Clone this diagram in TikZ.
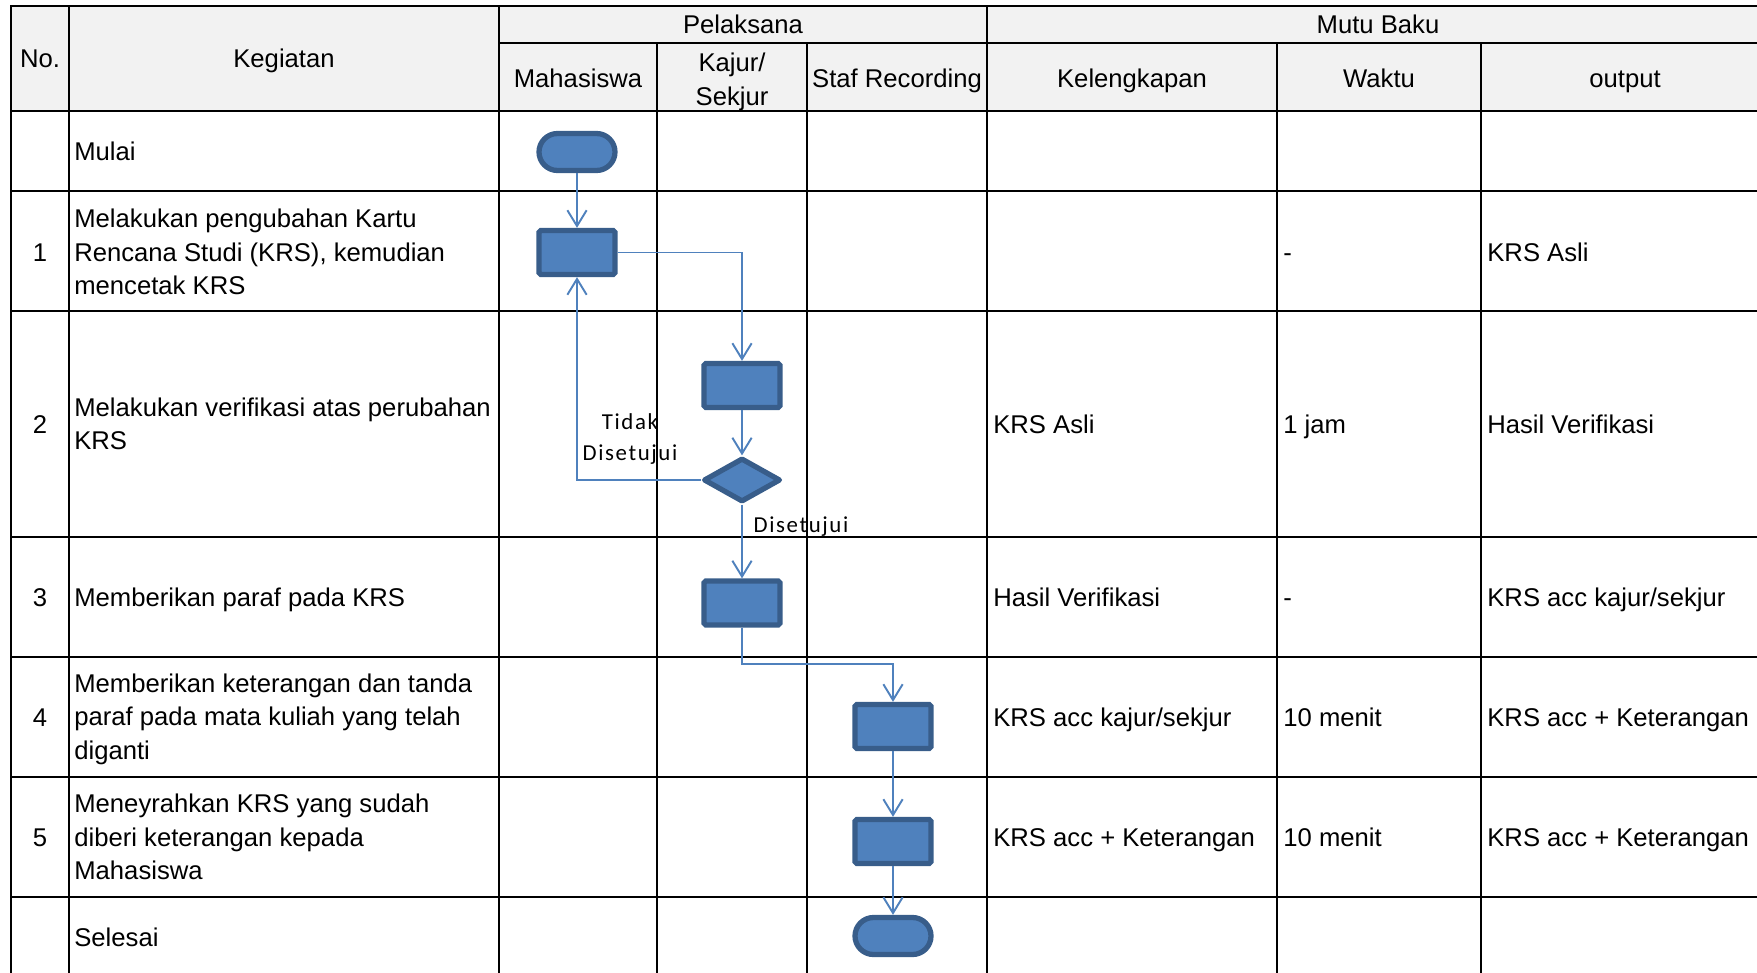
\documentclass[tikz,border=0pt]{standalone}
\usepackage{fontspec}
\setmainfont{Liberation Sans}
\newfontfamily\calibri{Carlito}[LetterSpace=7]
\usetikzlibrary{shapes.geometric,arrows.meta}

\definecolor{flowfill}{HTML}{4F81BD}
\definecolor{flowedge}{HTML}{385D8A}
\definecolor{headgrey}{HTML}{F2F2F2}

\begin{document}
\begin{tikzpicture}[
    x=0.02cm, y=-0.02cm,
    font=\fontsize{14.6}{19}\selectfont,
    grid/.style={line width=1.4pt, line cap=rect},
    head/.style={align=center, inner sep=0pt, text height=10.45pt, text depth=0pt},
    cell/.style={anchor=west, inner sep=0pt, text height=10.45pt, text depth=0pt},
    mcell/.style={anchor=west, align=left, inner sep=0pt},
    box/.style={
        rectangle, draw=flowedge, fill=flowfill, line width=3pt,
        minimum width=1.52cm, minimum height=0.88cm,
        rounded corners=1pt, inner sep=0pt
    },
    term/.style={box, rounded corners=0.37cm, minimum height=0.74cm},
    dec/.style={
        diamond, draw=flowedge, fill=flowfill, line width=3pt, line join=round,
        minimum width=1.54cm, minimum height=0.88cm, inner sep=0pt
    },
    arrow/.style={-{Straight Barb[length=9pt,width=11pt]}, draw=flowfill, line width=1.1pt},
    lbl/.style={font=\calibri\fontsize{13}{18}\selectfont, align=center, inner sep=0pt}
]
\useasboundingbox (0,0) rectangle (1757,973);

% Table grid
\fill[headgrey] (11,6) rectangle (1770,111);
\draw[grid] (11,6) -- (1770,6);
\draw[grid] (499,43) -- (1770,43);
\foreach \y in {111,191,311,537,657,777,897} \draw[grid] (11,\y) -- (1770,\y);
\foreach \x in {11,69,499,987} \draw[grid] (\x,6) -- (\x,990);
\foreach \x in {657,807,1277,1481} \draw[grid] (\x,43) -- (\x,990);

% Header
\node[head] (hno)   at (40,58)     {No.};
\node[head] (hkeg)  at (284,58)    {Kegiatan};
\node[head] (hpel)  at (743,24.5)  {Pelaksana};
\node[head] (hmutu) at (1378,24.5) {Mutu Baku};
\node[head] (hmhs)  at (578,78)    {Mahasiswa};
\node[align=center, inner sep=0pt] (hkaj) at (732,82) {Kajur/\\Sekjur};
\node[head] (hstaf) at (897,78)    {Staf Recording};
\node[head] (hkel)  at (1132,78)   {Kelengkapan};
\node[head] (hwkt)  at (1379,78)   {Waktu};
\node[head] (hout)  at (1625,78)   {output};

% Numbers
\node[head] (n1) at (40,252) {1};
\node[head] (n2) at (40,424) {2};
\node[head] (n3) at (40,597) {3};
\node[head] (n4) at (40,717) {4};
\node[head] (n5) at (40,837) {5};

% Kegiatan
\node[cell]  (k0) at (74,151) {Mulai};
\node[mcell] (k1) at (74,252) {Melakukan pengubahan Kartu\\Rencana Studi (KRS), kemudian\\mencetak KRS};
\node[mcell] (k2) at (74,424) {Melakukan verifikasi atas perubahan\\KRS};
\node[cell]  (k3) at (74,597) {Memberikan paraf pada KRS};
\node[mcell] (k4) at (74,719) {Memberikan keterangan dan tanda\\paraf pada mata kuliah yang telah\\diganti};
\node[mcell] (k5) at (74,837) {Meneyrahkan KRS yang sudah\\diberi keterangan kepada\\Mahasiswa};
\node[cell]  (k6) at (74,937) {Selesai};

% Mutu Baku
\node[cell] (w1) at (1283,252) {-};
\node[cell] (o1) at (1487,252) {KRS Asli};
\node[cell] (l2) at (993,424)  {KRS Asli};
\node[cell] (w2) at (1283,424) {1 jam};
\node[cell] (o2) at (1487,424) {Hasil Verifikasi};
\node[cell] (l3) at (993,597)  {Hasil Verifikasi};
\node[cell] (w3) at (1283,597) {-};
\node[cell] (o3) at (1487,597) {KRS acc kajur/sekjur};
\node[cell] (l4) at (993,717)  {KRS acc kajur/sekjur};
\node[cell] (w4) at (1283,717) {10 menit};
\node[cell] (o4) at (1487,717) {KRS acc + Keterangan};
\node[cell] (l5) at (993,837)  {KRS acc + Keterangan};
\node[cell] (w5) at (1283,837) {10 menit};
\node[cell] (o5) at (1487,837) {KRS acc + Keterangan};

% Flow shapes
\node[term] (start) at (577,152)   {};
\node[box]  (b1)    at (577,252.5) {};
\node[box]  (b2)    at (742,385.5) {};
\node[dec]  (cek)   at (742,480)   {};
\node[box]  (b3)    at (742,603)   {};
\node[box]  (b4)    at (893,726.5) {};
\node[box]  (b5)    at (893,841.5) {};
\node[term] (stop)  at (893,936)   {};

% Arrows
\draw[arrow] (start) -- (b1);
\draw[arrow] (b1) -| (b2);
\draw[arrow] (b2) -- (cek);
\draw[arrow] (cek) -| (b1);
\draw[arrow] (cek) -- (b3);
\draw[arrow] (b3.south) -- ++(0,36) -| (b4.north);
\draw[arrow] (b4) -- (b5);
\draw[arrow] (b5) -- (stop);

% Decision labels
\node[lbl] (tidak) at (630,439) {Tidak\\Disetujui};
\node[lbl] (ya)    at (801,527) {Disetujui};

\end{tikzpicture}
\end{document}
